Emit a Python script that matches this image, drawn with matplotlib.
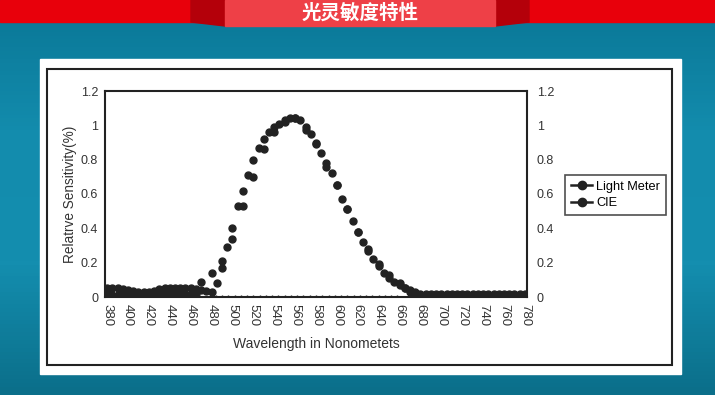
import matplotlib.pyplot as plt
import numpy as np
from matplotlib.patches import Rectangle, Polygon
from matplotlib.lines import Line2D

plt.rcParams['font.family'] = ['Liberation Sans', 'DejaVu Sans']

# datos
ondas_lm = [380, 385, 390, 395, 400, 405, 410, 415, 420, 425, 430, 435, 440, 445, 450,
            455, 460, 465, 470, 475, 480, 485, 490, 495, 500, 505, 510, 515, 520, 525,
            530, 535, 540, 545, 550, 555, 560, 565, 570, 575, 580, 585, 590, 595, 600,
            605, 610, 615, 620, 625, 630, 635, 640, 645, 650, 655, 660, 665, 670, 675,
            680, 685, 690, 695, 700, 705, 710, 715, 720, 725, 730, 735, 740, 745, 750,
            755, 760, 765, 770, 775, 780]
light_meter = [0.05, 0.055, 0.05, 0.045, 0.04, 0.035, 0.03, 0.03, 0.03, 0.035, 0.045, 0.05, 0.055, 0.055, 0.05,
               0.05, 0.05, 0.045, 0.04, 0.035, 0.03, 0.08, 0.17, 0.29, 0.40, 0.53, 0.62, 0.71, 0.80, 0.87,
               0.92, 0.96, 0.99, 1.01, 1.03, 1.04, 1.045, 1.03, 0.99, 0.95, 0.895, 0.84, 0.78, 0.72, 0.65,
               0.57, 0.51, 0.44, 0.38, 0.32, 0.27, 0.22, 0.18, 0.14, 0.11, 0.09, 0.07, 0.05, 0.04, 0.03,
               0.02, 0.02, 0.015, 0.015, 0.015, 0.015, 0.015, 0.015, 0.015, 0.02, 0.02, 0.02, 0.02, 0.02, 0.015,
               0.015, 0.015, 0.015, 0.015, 0.015, 0.015]

ondas_cie = [380, 385, 390, 395, 400, 405, 410, 415, 420, 425, 430, 435, 440, 445, 450,
             455, 460, 465, 470, 480, 490, 500, 510, 520, 530, 540, 550, 560, 570, 580,
             590, 600, 610, 620, 630, 640, 650, 660, 665, 670, 675, 680, 685, 690, 695,
             700, 705, 710, 715, 720, 725, 730, 735, 740, 745, 750, 755, 760, 765, 770,
             775, 780]
cie = [0.015, 0.01, 0.01, 0.015, 0.015, 0.015, 0.015, 0.015, 0.015, 0.015, 0.02, 0.015, 0.02, 0.015, 0.02,
       0.015, 0.02, 0.015, 0.09, 0.14, 0.21, 0.34, 0.53, 0.70, 0.86, 0.96, 1.02, 1.04, 0.97, 0.89,
       0.76, 0.65, 0.51, 0.38, 0.28, 0.19, 0.13, 0.08, 0.05, 0.03, 0.02, 0.01, 0.005, 0.005, 0.005,
       0.005, 0.005, 0.005, 0.005, 0.005, 0.005, 0.005, 0.005, 0.005, 0.005, 0.005, 0.005, 0.005, 0.005, 0.005,
       0.005, 0.005]

# linea base con marcas chicas entre 480 y 660
ondas_base = [484, 490, 496, 502, 508, 514, 520, 526, 532, 538, 544, 550, 556, 562, 568,
              574, 580, 586, 592, 598, 604, 610, 616, 622, 628, 634, 640, 646, 652, 658]
base = [0.0] * len(ondas_base)

marcas_x = list(range(380, 781, 20))
marcas_y = [0, 0.2, 0.4, 0.6, 0.8, 1, 1.2]
etiquetas_y = ['0', '0.2', '0.4', '0.6', '0.8', '1', '1.2']

fig = plt.figure(figsize=(7.15, 3.95), dpi=100)

# fondo y marco (coordenadas en pixeles)
fondo = fig.add_axes([0, 0, 1, 1])
fondo.set_xlim(0, 715)
fondo.set_ylim(395, 0)
fondo.axis('off')
grad = np.linspace(0, 1, 100).reshape(-1, 1)
fondo.imshow(grad, extent=[0, 715, 395, 0], aspect='auto',
             cmap=plt.matplotlib.colors.LinearSegmentedColormap.from_list(
                 'f', ['#0a7796', '#138cad', '#148eaf', '#0b6f8a']))
fondo.add_patch(Rectangle((0, 0), 715, 22, color='#e8000b'))
fondo.add_patch(Polygon([(191, 0), (225, 0), (225, 26), (191, 22)], color='#b4000a'))
fondo.add_patch(Polygon([(495, 0), (529, 0), (529, 22), (495, 26)], color='#b4000a'))
fondo.add_patch(Rectangle((225, 0), 270, 26, color='#ee4047'))
fondo.text(360, 13, '光灵敏度特性', color='white', fontsize=14, fontweight='bold',
           ha='center', va='center', family=['Noto Sans CJK SC', 'DejaVu Sans'])
fondo.add_patch(Rectangle((40, 59), 641, 315, color='white'))
fondo.add_patch(Rectangle((47, 69), 625, 296, fill=False, ec='#222222', lw=1.5))

ax = fig.add_axes([105 / 715, 98 / 395, 422 / 715, 206 / 395])
ax.plot(ondas_base, base, ls='none', marker='|', ms=3, color='#222222')
ax.plot(ondas_cie, cie, ls='none', marker='o', ms=5, color='#222222')
ax.plot(ondas_lm, light_meter, ls='none', marker='o', ms=5, color='#222222')
ax.set_xlim(378, 782)
ax.set_ylim(0, 1.2)
ax.set_xticks(marcas_x)
ax.set_xticklabels([str(m) for m in marcas_x], rotation=-90, fontsize=9.5, color='#333333')
ax.set_yticks(marcas_y)
ax.set_yticklabels(etiquetas_y, fontsize=9, color='#333333')
ax.tick_params(length=0, pad=5)
for s in ax.spines.values():
    s.set_linewidth(1.5)
    s.set_color('#222222')
ax.set_xlabel('Wavelength in Nonometets', fontsize=10, color='#333333', labelpad=8)
ax.set_ylabel('Relatrve Sensitivity(%)', fontsize=9.8, color='#333333', labelpad=3)

ax2 = ax.twinx()
ax2.set_ylim(0, 1.2)
ax2.set_yticks(marcas_y)
ax2.set_yticklabels(etiquetas_y, fontsize=9, color='#333333')
ax2.tick_params(length=0, pad=7)
for s in ax2.spines.values():
    s.set_visible(False)

manijas = [Line2D([], [], color='#222222', lw=1.8, marker='o', ms=6),
           Line2D([], [], color='#222222', lw=1.8, marker='o', ms=6)]
ley = fig.legend(manijas, ['Light Meter', 'CIE'], loc='upper left',
                 bbox_to_anchor=(565 / 715, 1 - 175 / 395), fontsize=9.2,
                 frameon=True, fancybox=False, edgecolor='#222222', handlelength=1.7,
                 handletextpad=0.3, borderpad=0.45, labelspacing=0.35, borderaxespad=0)
ley.get_frame().set_linewidth(1.2)

fig.savefig('out.png', dpi=100)
